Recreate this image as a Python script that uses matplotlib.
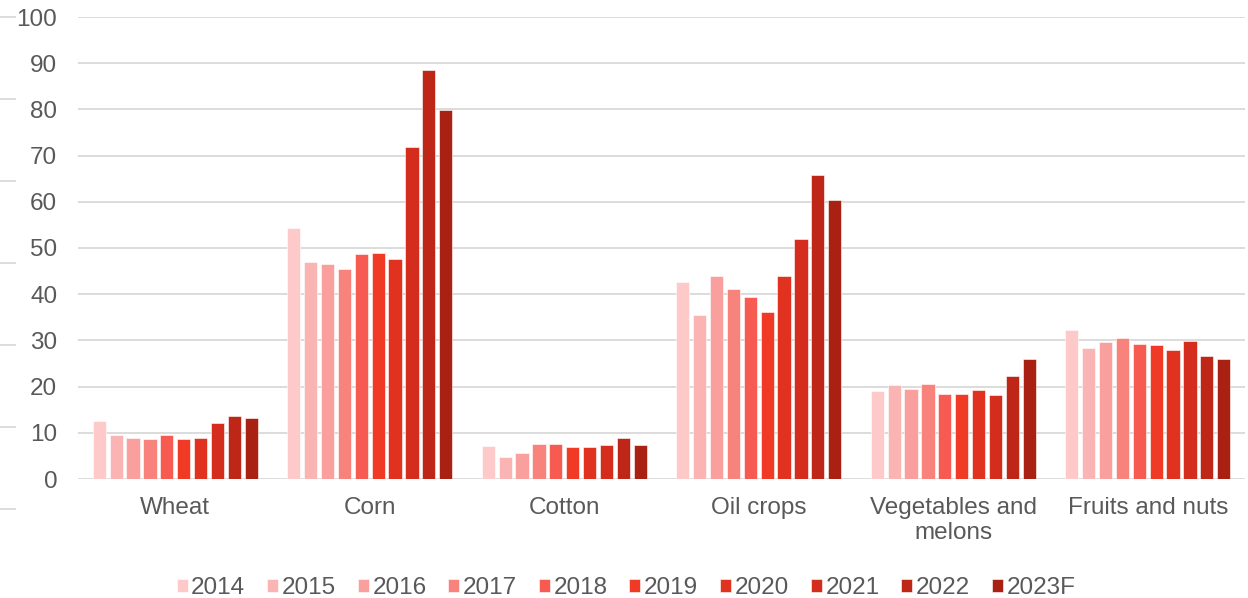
import matplotlib
matplotlib.use("Agg")
import matplotlib.pyplot as plt
from matplotlib.lines import Line2D
import numpy as np

plt.rcParams['font.family'] = ['Liberation Sans', 'DejaVu Sans']

categories = ["Wheat", "Corn", "Cotton", "Oil crops", "Vegetables and\nmelons", "Fruits and nuts"]
years = ["2014", "2015", "2016", "2017", "2018", "2019", "2020", "2021", "2022", "2023F"]

wheat = [12.6, 9.5, 8.9, 8.7, 9.6, 8.7, 8.9, 12.1, 13.6, 13.1]
corn = [54.4, 47.0, 46.6, 45.5, 48.6, 49.0, 47.6, 71.8, 88.5, 79.9]
cotton = [7.1, 4.8, 5.6, 7.6, 7.5, 6.9, 6.9, 7.3, 8.9, 7.3]
oil_crops = [42.6, 35.5, 43.9, 41.1, 39.5, 36.2, 43.9, 52.0, 65.7, 60.4]
vegetables = [19.0, 20.3, 19.5, 20.6, 18.5, 18.4, 19.3, 18.1, 22.4, 26.0]
fruits = [32.3, 28.4, 29.7, 30.6, 29.2, 29.0, 27.9, 29.9, 26.6, 26.0]

colors = ["#FDC9C9", "#FBB4B4", "#F99F9D", "#F8837D", "#F65A50",
          "#F03A25", "#E0321E", "#D42D1E", "#BE2617", "#A82113"]

data = np.array([wheat, corn, cotton, oil_crops, vegetables, fruits])

W, H = 1248, 598
fig = plt.figure(figsize=(W / 100, H / 100), dpi=100)
ax = fig.add_axes([78 / W, 1 - 479 / H, (1245 - 78) / W, (479 - 17) / H])

text_color = "#595959"
grid_color = "#D9D9D9"
fs = 17.5

x = np.arange(len(categories))
slot = 0.0867
bw = 0.068
for i, (yr, col) in enumerate(zip(years, colors)):
    offs = (i - 4.5) * slot
    ax.bar(x + offs, data[:, i], width=bw, color=col, label=yr,
           edgecolor="white", linewidth=0.4, zorder=3)

ax.set_xlim(-0.5, len(categories) - 0.5)
ax.set_ylim(0, 100)
ax.set_yticks(np.arange(0, 101, 10))
ax.set_xticks(x)
ax.set_xticklabels(categories, fontsize=fs, color=text_color, linespacing=1.2)
ax.tick_params(axis='y', labelsize=fs, labelcolor=text_color, length=0, pad=15)
ax.tick_params(axis='x', length=0, pad=13)
ax.grid(axis='y', color=grid_color, linewidth=1.3, zorder=0)
for s in ax.spines.values():
    s.set_visible(False)

# decorative short marks at the very left edge
for yp in [17, 99, 181, 263, 345, 427, 509]:
    fig.add_artist(Line2D([0, 15 / W], [1 - yp / H, 1 - yp / H],
                          color=grid_color, linewidth=1.3))

leg = fig.legend(loc="center", bbox_to_anchor=(626 / W, 1 - 588 / H), ncol=10,
                 frameon=False, fontsize=fs, handlelength=0.45, handleheight=0.45,
                 handletextpad=0.15, columnspacing=0.9, labelcolor=text_color)

fig.savefig("out.png", dpi=100)
